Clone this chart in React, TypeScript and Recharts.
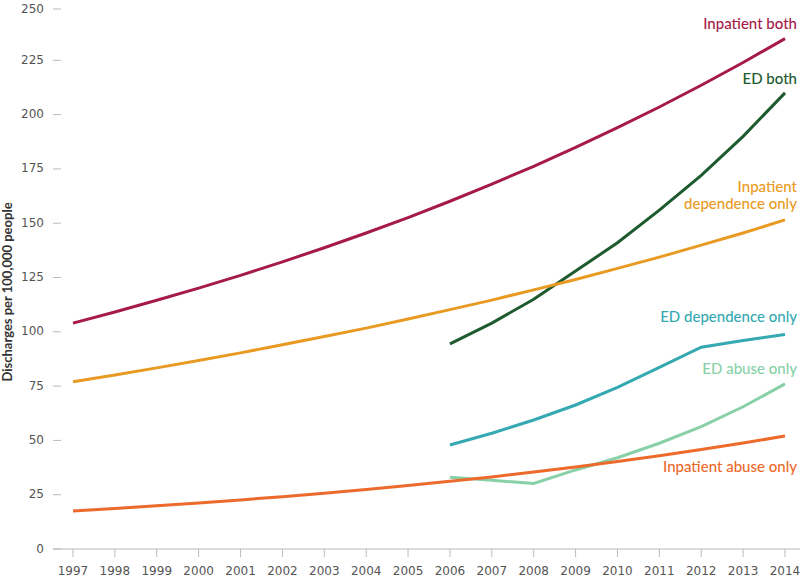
import { LineChart, Line, XAxis, YAxis } from 'recharts'

const years = [1997, 1998, 1999, 2000, 2001, 2002, 2003, 2004, 2005, 2006, 2007, 2008, 2009, 2010, 2011, 2012, 2013, 2014]
const yTicks = [0, 25, 50, 75, 100, 125, 150, 175, 200, 225, 250]

const inpatientBoth = [104, 109.1, 114.5, 120.1, 126, 132.2, 138.7, 145.5, 152.6, 160.1, 168, 176.2, 184.9, 194, 203.5, 213.5, 224, 235]
const inpatientDependence = [77, 80.1, 83.4, 86.8, 90.3, 94, 97.8, 101.7, 105.9, 110.2, 114.6, 119.3, 124.1, 129.2, 134.4, 139.9, 145.5, 151.5]
const inpatientAbuse = [17.5, 18.7, 19.9, 21.2, 22.6, 24.1, 25.7, 27.4, 29.2, 31.2, 33.2, 35.4, 37.8, 40.3, 42.9, 45.8, 48.8, 52]
const edBoth = [null, null, null, null, null, null, null, null, null, 94.4, 104, 115, 128, 141, 156, 172, 190, 210]
const edDependence = [null, null, null, null, null, null, null, null, null, 47.9, 53.3, 59.4, 66.3, 74.4, 83.6, 92.9, 96, 98.8]
const edAbuse = [null, null, null, null, null, null, null, null, null, 33, 31.6, 30.2, 36.4, 42, 48.7, 56.3, 65.5, 76]

const data = years.map((year, i) => ({
  year,
  inpatientBoth: inpatientBoth[i],
  inpatientDependence: inpatientDependence[i],
  inpatientAbuse: inpatientAbuse[i],
  edBoth: edBoth[i],
  edDependence: edDependence[i],
  edAbuse: edAbuse[i],
}))

const labelFont = 'Lato, "Noto Sans", sans-serif'
const tickFont = '"DejaVu Sans", Verdana, sans-serif'

// end-of-line label, drawn only at the last point
function endLabel(lines: string[], color: string, dy: number) {
  return (props: any) => {
    if (props.index !== years.length - 1) return null
    return (
      <text
        x={props.x + 12}
        y={props.y + dy}
        fill={color}
        fontFamily={labelFont}
        fontSize={15}
        fontWeight={500}
        textAnchor="end"
        dominantBaseline="middle"
      >
        {lines.map((l, i) => (
          <tspan key={i} x={props.x + 12} dy={i === 0 ? 0 : 17}>
            {l}
          </tspan>
        ))}
      </text>
    )
  }
}

function YTick({ y, payload }: any) {
  return (
    <g>
      <text x={44} y={y} textAnchor="end" dominantBaseline="middle" fill="#555" fontSize={12} fontFamily={tickFont}>
        {payload.value}
      </text>
      <line x1={53} x2={61} y1={y} y2={y} stroke="#bbb" strokeWidth={1} />
    </g>
  )
}

const series = [
  { key: 'inpatientBoth', color: '#a51a48', label: ['Inpatient both'], dy: -14 },
  { key: 'edBoth', color: '#1d5a2d', label: ['ED both'], dy: -13 },
  { key: 'inpatientDependence', color: '#e89a22', label: ['Inpatient', 'dependence only'], dy: -32 },
  { key: 'edDependence', color: '#35a9b1', label: ['ED dependence only'], dy: -16 },
  { key: 'edAbuse', color: '#88d0a8', label: ['ED abuse only'], dy: -14 },
  { key: 'inpatientAbuse', color: '#ec6a2b', label: ['Inpatient abuse only'], dy: 32 },
]

export default function App() {
  return (
    <div style={{ position: 'absolute', left: 0, top: 0, width: 800, height: 577, background: '#fff' }}>
      <LineChart width={800} height={577} data={data} margin={{ top: 6, right: 0, bottom: 0, left: 0 }}>
        <XAxis
          dataKey="year"
          type="number"
          domain={[1997, 2014]}
          ticks={years}
          padding={{ left: 20, right: 15 }}
          height={28}
          stroke="#bbb"
          tickSize={8}
          tickMargin={9}
          tick={{ fill: '#555', fontSize: 12, fontFamily: tickFont }}
        />
        <YAxis
          type="number"
          domain={[0, 250]}
          ticks={yTicks}
          width={53}
          axisLine={false}
          tickLine={false}
          tick={<YTick />}
        />
        {series.map((s) => (
          <Line
            key={s.key}
            dataKey={s.key}
            type="linear"
            stroke={s.color}
            strokeWidth={3}
            dot={false}
            isAnimationActive={false}
            label={endLabel(s.label, s.color, s.dy)}
          />
        ))}
        <text
          x={12}
          y={292}
          transform="rotate(-90, 12, 292)"
          textAnchor="middle"
          fill="#333"
          fontSize={13}
          fontWeight="bold"
          fontFamily={labelFont}
        >
          Discharges per 100,000 people
        </text>
      </LineChart>
    </div>
  )
}
